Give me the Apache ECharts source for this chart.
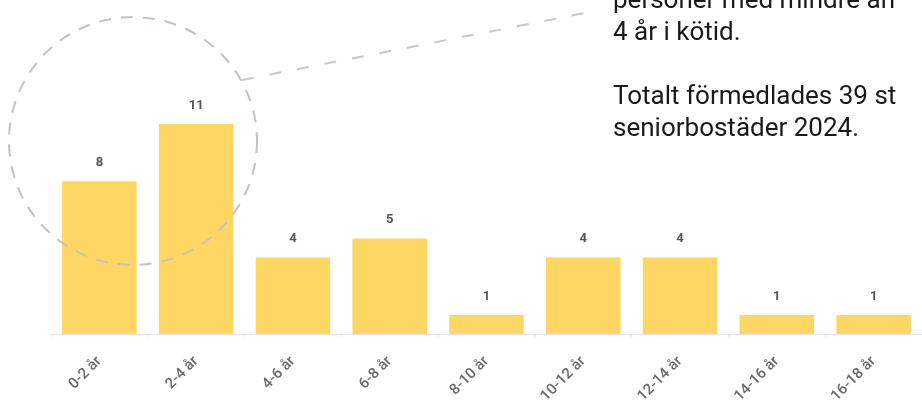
<!DOCTYPE html>
<html>
<head>
<meta charset="utf-8">
<script src="https://cdn.jsdelivr.net/npm/echarts@6/dist/echarts.min.js"></script>
<style>
html,body{margin:0;padding:0;background:#fff;}
#chart{width:922px;height:409px;}
</style>
</head>
<body>
<div id="chart"></div>
<script>
const categories = ['0-2 år','2-4 år','4-6 år','6-8 år','8-10 år','10-12 år','12-14 år','14-16 år','16-18 år'];
const values = [8, 11, 4, 5, 1, 4, 4, 1, 1];
const noteLines = ['personer med mindre än', '4 år i kötid.', '', 'Totalt förmedlades 39 st', 'seniorbostäder 2024.'];

const chart = echarts.init(document.getElementById('chart'));
chart.setOption({
  animation: false,
  backgroundColor: '#ffffff',
  grid: { left: 51, right: 0, top: 47.5, bottom: 75, containLabel: false },
  xAxis: {
    type: 'category',
    data: categories,
    axisLine: { show: true, lineStyle: { color: '#e3e6ea', width: 1 } },
    axisTick: { show: true, alignWithLabel: false, length: 3, lineStyle: { color: '#e3e6ea' } },
    axisLabel: { rotate: 45, color: '#6a6a6a', fontFamily: 'Roboto, sans-serif', fontWeight: 500, fontSize: 15, margin: 25 }
  },
  yAxis: {
    type: 'value', min: 0, max: 15,
    show: false,
    splitLine: { show: false }
  },
  series: [{
    type: 'bar',
    data: values,
    barCategoryGap: '23%',
    itemStyle: { color: '#FDD663' },
    label: { show: true, position: 'top', distance: 12, color: '#555', fontWeight: 'bold', fontSize: 13, fontFamily: 'Roboto, sans-serif' }
  }],
  graphic: [
    { type: 'circle', shape: { cx: 133, cy: 141, r: 124 },
      style: { fill: 'none', stroke: '#c9c0b9', lineWidth: 2, lineDash: [12, 10] }, z: 10 },
    { type: 'line', shape: { x1: 242, y1: 80, x2: 590, y2: 12 },
      style: { stroke: '#d0c6bd', lineWidth: 2, lineDash: [12, 16] }, z: 10 },
    { type: 'text', left: 613, top: -15,
      style: { text: noteLines.join('\n'), fill: '#1a1a1a', font: '26px Roboto, sans-serif', lineHeight: 32 }, z: 10 }
  ]
});
</script>
</body>
</html>
